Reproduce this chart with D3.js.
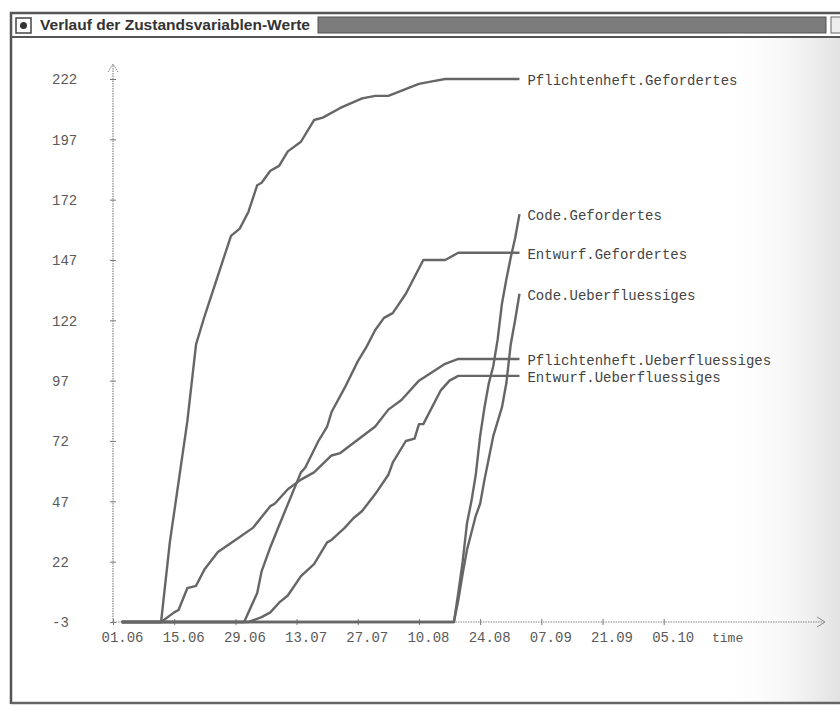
<!DOCTYPE html>
<html>
<head>
<meta charset="utf-8">
<script src="https://cdn.jsdelivr.net/npm/d3@7"></script>
<style>
  body { margin: 0; background: #fff; }
  svg { display: block; }
</style>
</head>
<body>
<svg id="chart" width="840" height="706"></svg>
<script>
// values, dates as dd.mm
const seriesNames = [
  "Pflichtenheft.Gefordertes",
  "Code.Gefordertes",
  "Entwurf.Gefordertes",
  "Code.Ueberfluessiges",
  "Pflichtenheft.Ueberfluessiges",
  "Entwurf.Ueberfluessiges"
]

const pflichtGef = [["03.06",-3],["12.06",-3],["14.06",30],["16.06",55],["18.06",80],["20.06",112],["22.06",124],["26.06",146],["28.06",157],["30.06",160],["02.07",167],["04.07",178],["05.07",179],["07.07",184],["09.07",186],["11.07",192],["14.07",196],["17.07",205],["19.07",206],["23.07",210],["28.07",214],["31.07",215],["03.08",215],["10.08",220],["13.08",221],["16.08",222],["02.09",222]]

const codeGef = [["03.06",-3],["18.08",-3],["19.08",9],["20.08",22],["21.08",38],["22.08",47],["23.08",58],["24.08",74],["25.08",86],["26.08",96],["27.08",103],["28.08",114],["29.08",129],["30.08",139],["31.08",148],["01.09",156],["02.09",166]]

const entwurfGef = [["03.06",-3],["01.07",-3],["04.07",9],["05.07",18],["07.07",28],["09.07",37],["14.07",59],["15.07",61],["18.07",72],["20.07",78],["21.07",84],["24.07",94],["27.07",105],["29.07",111],["31.07",118],["02.08",123],["04.08",125],["07.08",133],["11.08",147],["16.08",147],["19.08",150],["02.09",150]]

const codeUeb = [["03.06",-3],["18.08",-3],["19.08",6],["20.08",17],["21.08",27],["22.08",34],["23.08",41],["24.08",46],["25.08",56],["26.08",65],["27.08",74],["28.08",80],["29.08",86],["30.08",96],["31.08",112],["01.09",122],["02.09",133]]

const pflichtUeb = [["03.06",-3],["12.06",-3],["15.06",1],["16.06",2],["18.06",11],["20.06",12],["22.06",19],["25.06",26],["29.06",31],["03.07",36],["07.07",45],["08.07",46],["11.07",52],["14.07",56],["17.07",59],["21.07",66],["23.07",67],["31.07",78],["03.08",85],["06.08",89],["10.08",97],["16.08",104],["19.08",106],["02.09",106]]

const entwurfUeb = [["03.06",-3],["02.07",-3],["05.07",-1],["07.07",1],["09.07",5],["11.07",8],["14.07",16],["17.07",21],["18.07",24],["20.07",30],["21.07",31],["24.07",36],["26.07",40],["28.07",43],["31.07",50],["03.08",58],["04.08",63],["07.08",72],["09.08",73],["10.08",79],["11.08",79],["15.08",93],["17.08",97],["19.08",99],["02.09",99]]

const xTicks = ["01.06","15.06","29.06","13.07","27.07","10.08","24.08","07.09","21.09","05.10"]
const yTicks = [-3, 22, 47, 72, 97, 122, 147, 172, 197, 222]

const allSeries = [pflichtGef, codeGef, entwurfGef, codeUeb, pflichtUeb, entwurfUeb]

const parse = d3.timeParse("%d.%m")
const mono = "'Courier New', 'Liberation Mono', monospace"
const ink = "#5a5a5a"

const svg = d3.select("#chart")

// scanned page shading on the right
const defs = svg.append("defs")
const grad = defs.append("linearGradient").attr("id", "scan")
grad.append("stop").attr("offset", "0").attr("stop-color", "#fff").attr("stop-opacity", 0)
grad.append("stop").attr("offset", "1").attr("stop-color", "#e2e2e2").attr("stop-opacity", 1)
svg.append("rect")
  .attr("x", 720).attr("y", 38).attr("width", 120).attr("height", 664)
  .attr("fill", "url(#scan)")

// window frame
const frame = svg.append("g").attr("stroke", "#555").attr("fill", "none")
frame.append("path").attr("d", "M11,704 V13 H842").attr("stroke-width", 2.5)
frame.append("path").attr("d", "M11,37 H842").attr("stroke-width", 2)
frame.append("path").attr("d", "M11,703 H842").attr("stroke-width", 2.5).attr("stroke", "#666")

const title = svg.append("g")
title.append("rect").attr("x", 16).attr("y", 18).attr("width", 15).attr("height", 15)
  .attr("fill", "#fff").attr("stroke", "#444").attr("stroke-width", 1.5)
title.append("circle").attr("cx", 23.5).attr("cy", 25.5).attr("r", 3.5).attr("fill", "#333")
title.append("text")
  .attr("x", 40).attr("y", 30)
  .attr("font-family", "'Liberation Sans Narrow', 'Arial Narrow', 'Liberation Sans', sans-serif")
  .attr("font-weight", "bold").attr("font-size", 15)
  .attr("textLength", 270).attr("lengthAdjust", "spacingAndGlyphs")
  .attr("fill", "#333")
  .text("Verlauf der Zustandsvariablen-Werte")
title.append("rect").attr("x", 318).attr("y", 17).attr("width", 508).attr("height", 16)
  .attr("fill", "#7c7c7c").attr("stroke", "#555")
title.append("rect").attr("x", 831).attr("y", 17).attr("width", 12).attr("height", 16)
  .attr("fill", "#eee").attr("stroke", "#666")

// scales
const x = d3.scaleTime()
  .domain([parse("01.06"), parse("05.10")])
  .range([113, 663.7])
const y = d3.scaleLinear()
  .domain([-3, 222])
  .range([622, 79])

// axes
const xAxis = svg.append("g")
  .attr("transform", `translate(0, ${y(-3)})`)
  .call(d3.axisBottom(x)
    .tickValues(xTicks.map(parse))
    .tickFormat(d3.timeFormat("%d.%m"))
    .tickSize(4)
    .tickPadding(6))
xAxis.select(".domain").remove()
xAxis.selectAll(".tick line").attr("stroke", "#777").attr("y1", -3).attr("y2", 3)
xAxis.selectAll(".tick text")
  .attr("font-family", mono).attr("font-size", 14).attr("fill", ink)
  .attr("dx", 9)

const yAxis = svg.append("g")
  .attr("transform", `translate(${x(parse("01.06"))}, 0)`)
  .call(d3.axisLeft(y).tickValues(yTicks).tickFormat((d) => String(d)).tickSize(3))
yAxis.select(".domain").remove()
yAxis.selectAll(".tick line").attr("stroke", "#777").attr("x1", 3).attr("x2", -3)
yAxis.selectAll(".tick text")
  .attr("font-family", mono).attr("font-size", 14).attr("fill", ink)
  .attr("text-anchor", "start").attr("x", -61).attr("dy", "0.35em")

// dotted axis lines with arrows
const axisLines = svg.append("g").attr("stroke", "#888").attr("fill", "none")
axisLines.append("line")
  .attr("x1", 113).attr("x2", 824).attr("y1", y(-3)).attr("y2", y(-3))
  .attr("stroke-dasharray", "1.5,1").attr("stroke-width", 1.2)
axisLines.append("path").attr("d", `M817,${y(-3) - 5} L825,${y(-3)} L817,${y(-3) + 5}`)
axisLines.append("line")
  .attr("x1", 113).attr("x2", 113).attr("y1", y(-3)).attr("y2", 64)
  .attr("stroke-dasharray", "1.5,1").attr("stroke-width", 1.2)
axisLines.append("path").attr("d", "M108,72 L113,64 L118,72").attr("stroke-dasharray", "1.5,1")

svg.append("text")
  .attr("x", 712).attr("y", y(-3) + 20)
  .attr("font-family", mono).attr("font-size", 13).attr("fill", ink)
  .text("time")

// series
const line = d3.line()
  .x((d) => x(parse(d[0])))
  .y((d) => y(d[1]))

const lines = svg.append("g")
lines.selectAll("path")
  .data(allSeries)
  .join("path")
  .attr("d", line)
  .attr("fill", "none")
  .attr("stroke", "#666")
  .attr("stroke-width", 2.4)
  .attr("stroke-linejoin", "round")

lines.selectAll("text")
  .data(allSeries)
  .join("text")
  .attr("x", (d) => x(parse(d[d.length - 1][0])) + 8)
  .attr("y", (d) => y(d[d.length - 1][1]) + 1)
  .attr("dy", "0.35em")
  .attr("font-family", mono)
  .attr("font-size", 14)
  .attr("fill", "#444")
  .text((d, i) => seriesNames[i])
</script>
</body>
</html>
